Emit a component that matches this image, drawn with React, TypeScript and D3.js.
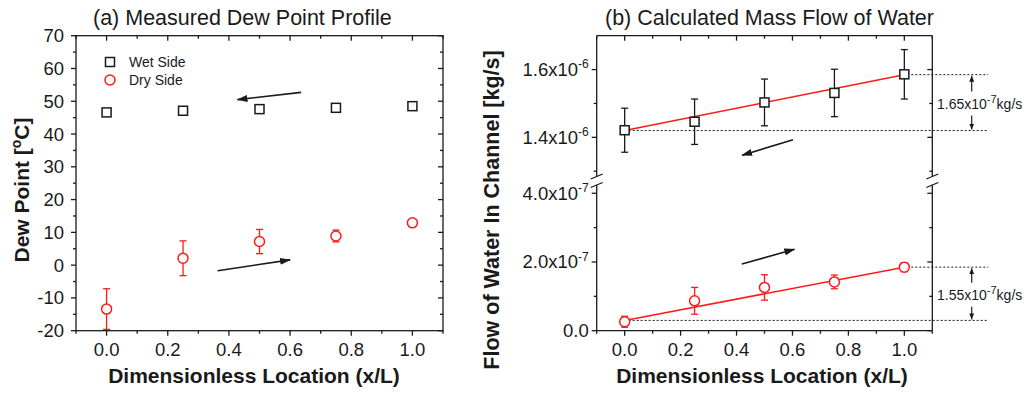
import React, { useEffect, useRef } from 'react';
import * as d3 from 'd3';

// x positions of the measuring points (x/L)
const xLocations = [0, 0.25, 0.5, 0.75, 1.0];

// (a) dew point profile [°C]
const wetDewPoint = [46.6, 47.1, 47.6, 48.0, 48.5];
const wetDewPointErr = [0.6, 0.6, 0.6, 0.6, 0.6];
const dryDewPoint = [-13.4, 2.1, 7.2, 8.9, 12.9];
const dryDewPointErr = [6.2, 5.3, 3.7, 1.8, 0.7];

// (b) mass flow of water [kg/s]
const wetFlow = [1.421e-6, 1.446e-6, 1.503e-6, 1.531e-6, 1.586e-6];
const wetFlowErr = [0.065e-6, 0.067e-6, 0.069e-6, 0.07e-6, 0.073e-6];
const dryFlow = [2.6e-8, 8.7e-8, 1.26e-7, 1.42e-7, 1.85e-7];
const dryFlowErr = [1.6e-8, 3.9e-8, 3.7e-8, 2.0e-8, 1.3e-8];

// linear fits, value at x = 0 and x = 1
const wetFlowFit = [1.42e-6, 1.585e-6];
const dryFlowFit = [3.0e-8, 1.85e-7];
const fitLabels = [['1.65x10', '-7', 'kg/s'], ['1.55x10', '-7', 'kg/s']];

// ticks
const xTicks = [0, 0.2, 0.4, 0.6, 0.8, 1.0];
const xMinorTicks = [-0.1, 0.1, 0.3, 0.5, 0.7, 0.9, 1.1];
const dewTicks = [-20, -10, 0, 10, 20, 30, 40, 50, 60, 70];
const dewMinorTicks = [-15, -5, 5, 15, 25, 35, 45, 55, 65];
const upperFlowTicks = [1.4e-6, 1.6e-6];
const upperFlowMinorTicks = [1.3e-6, 1.5e-6];
const upperFlowTickLabels = [['1.4x10', '-6'], ['1.6x10', '-6']];
const lowerFlowTicks = [0, 2e-7, 4e-7];
const lowerFlowMinorTicks = [1e-7, 3e-7];
const lowerFlowTickLabels = [['0.0', ''], ['2.0x10', '-7'], ['4.0x10', '-7']];

// direction arrows, in data units [x1, y1, x2, y2] (head at x2, y2)
const dewArrows = [[0.636, 52.7, 0.428, 50.5], [0.363, -1.7, 0.6, 1.6]];
const upperFlowArrow = [0.602, 1.393e-6, 0.42, 1.347e-6];
const lowerFlowArrow = [0.419, 1.94e-7, 0.607, 2.37e-7];

const seriesNames = ['Wet Side', 'Dry Side'];

const FONT = '"Liberation Sans", Arial, Helvetica, sans-serif';
const INK = '#1a1a1a';
const RED = '#ff1a1a';

const App = () => {
  const svgRef = useRef(null);

  useEffect(() => {
    renderChart();
  }, []);

  const renderChart = () => {
    const svg = d3.select(svgRef.current);
    svg.selectAll('*').remove();
    svg.style('font-family', FONT);

    const defs = svg.append('defs');
    defs.append('marker')
      .attr('id', 'arrowBig')
      .attr('viewBox', '0 0 11 7')
      .attr('refX', 10)
      .attr('refY', 3.5)
      .attr('markerWidth', 11)
      .attr('markerHeight', 7)
      .attr('markerUnits', 'userSpaceOnUse')
      .attr('orient', 'auto')
      .append('path')
      .attr('d', 'M0,0 L11,3.5 L0,7 Z')
      .attr('fill', INK);
    defs.append('marker')
      .attr('id', 'arrowSmall')
      .attr('viewBox', '0 0 6 5')
      .attr('refX', 6)
      .attr('refY', 2.5)
      .attr('markerWidth', 6)
      .attr('markerHeight', 5)
      .attr('markerUnits', 'userSpaceOnUse')
      .attr('orient', 'auto')
      .append('path')
      .attr('d', 'M0,0 L6,2.5 L0,5 Z')
      .attr('fill', INK);

    const line = (g, x1, y1, x2, y2, color = INK, w = 1.3) =>
      g.append('line')
        .attr('x1', x1).attr('y1', y1).attr('x2', x2).attr('y2', y2)
        .attr('stroke', color).attr('stroke-width', w);

    const supText = (g, x, y, parts, anchor, size, supSize) => {
      const t = g.append('text')
        .attr('x', x).attr('y', y)
        .attr('text-anchor', anchor)
        .style('font-size', `${size}px`)
        .attr('fill', INK);
      t.append('tspan').text(parts[0]);
      if (parts[1]) {
        t.append('tspan').attr('dy', -size * 0.42).style('font-size', `${supSize}px`).text(parts[1]);
      }
      if (parts[2]) {
        t.append('tspan').attr('dy', size * 0.42).text(parts[2]);
      }
      return t;
    };

    const xTickMarks = (g, xs, top, bottom) => {
      xTicks.forEach(v => {
        line(g, xs(v), bottom, xs(v), bottom + 5);
        line(g, xs(v), top, xs(v), top + 5);
        g.append('text')
          .attr('x', xs(v)).attr('y', bottom + 25)
          .attr('text-anchor', 'middle')
          .style('font-size', '18.5px')
          .attr('fill', INK)
          .text(d3.format('.1f')(v));
      });
      xMinorTicks.forEach(v => {
        line(g, xs(v), bottom, xs(v), bottom + 3);
        line(g, xs(v), top, xs(v), top + 3);
      });
    };

    const errorBars = (g, xs, ys, vals, errs, color) => {
      vals.forEach((v, i) => {
        const cx = xs(xLocations[i]);
        line(g, cx, ys(v - errs[i]), cx, ys(v + errs[i]), color, 1.3);
        line(g, cx - 3.5, ys(v - errs[i]), cx + 3.5, ys(v - errs[i]), color, 1.3);
        line(g, cx - 3.5, ys(v + errs[i]), cx + 3.5, ys(v + errs[i]), color, 1.3);
      });
    };

    const squares = (g, xs, ys, vals) => {
      vals.forEach((v, i) => {
        g.append('rect')
          .attr('x', xs(xLocations[i]) - 4.5).attr('y', ys(v) - 4.5)
          .attr('width', 9).attr('height', 9)
          .attr('fill', '#fff').attr('stroke', INK).attr('stroke-width', 1.5);
      });
    };

    const circles = (g, xs, ys, vals) => {
      vals.forEach((v, i) => {
        g.append('circle')
          .attr('cx', xs(xLocations[i])).attr('cy', ys(v)).attr('r', 5)
          .attr('fill', '#fff').attr('stroke', RED).attr('stroke-width', 1.5);
      });
    };

    const arrow = (g, xs, ys, a) => {
      g.append('line')
        .attr('x1', xs(a[0])).attr('y1', ys(a[1]))
        .attr('x2', xs(a[2])).attr('y2', ys(a[3]))
        .attr('stroke', INK).attr('stroke-width', 1.6)
        .attr('marker-end', 'url(#arrowBig)');
    };

    // ---------------- (a) Measured Dew Point Profile ----------------
    const A = { left: 76, right: 443, top: 35.7, bottom: 330.7 };
    const xA = d3.scaleLinear().domain([-0.1, 1.1]).range([A.left, A.right]);
    const yA = d3.scaleLinear().domain([-20, 70]).range([A.bottom, A.top]);
    const ga = svg.append('g');

    ga.append('rect')
      .attr('x', A.left).attr('y', A.top)
      .attr('width', A.right - A.left).attr('height', A.bottom - A.top)
      .attr('fill', 'none').attr('stroke', INK).attr('stroke-width', 1.3);

    xTickMarks(ga, xA, A.top, A.bottom);
    dewTicks.forEach(v => {
      line(ga, A.left - 5, yA(v), A.left, yA(v));
      line(ga, A.right - 5, yA(v), A.right, yA(v));
      ga.append('text')
        .attr('x', A.left - 12).attr('y', yA(v) + 6.5)
        .attr('text-anchor', 'end')
        .style('font-size', '18.5px')
        .attr('fill', INK)
        .text(v);
    });
    dewMinorTicks.forEach(v => {
      line(ga, A.left - 3, yA(v), A.left, yA(v));
      line(ga, A.right - 3, yA(v), A.right, yA(v));
    });

    errorBars(ga, xA, yA, wetDewPoint, wetDewPointErr, INK);
    errorBars(ga, xA, yA, dryDewPoint, dryDewPointErr, RED);
    squares(ga, xA, yA, wetDewPoint);
    circles(ga, xA, yA, dryDewPoint);
    dewArrows.forEach(a => arrow(ga, xA, yA, a));

    // legend
    ga.append('rect')
      .attr('x', 105.5).attr('y', 57.5).attr('width', 9).attr('height', 9)
      .attr('fill', '#fff').attr('stroke', INK).attr('stroke-width', 1.5);
    ga.append('circle')
      .attr('cx', 110).attr('cy', 80).attr('r', 5)
      .attr('fill', '#fff').attr('stroke', RED).attr('stroke-width', 1.5);
    seriesNames.forEach((s, i) => {
      ga.append('text')
        .attr('x', 129).attr('y', 67 + i * 18)
        .style('font-size', '14px')
        .attr('fill', INK)
        .text(s);
    });

    ga.append('text')
      .attr('x', 93).attr('y', 25)
      .style('font-size', '21.5px')
      .attr('fill', INK)
      .text('(a) Measured Dew Point Profile');
    ga.append('text')
      .attr('x', 254).attr('y', 383)
      .attr('text-anchor', 'middle')
      .style('font-size', '21px').style('font-weight', 'bold')
      .attr('fill', INK)
      .text('Dimensionless Location (x/L)');
    const yTitleA = ga.append('text')
      .attr('transform', 'translate(29,190) rotate(-90)')
      .attr('text-anchor', 'middle')
      .style('font-size', '21px').style('font-weight', 'bold')
      .attr('fill', INK);
    yTitleA.append('tspan').text('Dew Point [');
    yTitleA.append('tspan').attr('dy', -8).style('font-size', '14px').text('o');
    yTitleA.append('tspan').attr('dy', 8).text('C]');

    // ---------------- (b) Calculated Mass Flow of Water ----------------
    const B = { left: 596.7, right: 932.3, top: 35.7, bottom: 330.7, breakTop: 179, breakBottom: 184 };
    const xB = d3.scaleLinear().domain([-0.1, 1.1]).range([B.left, B.right]);
    const yUp = d3.scaleLinear().domain([1.277e-6, 1.7e-6]).range([B.breakTop, B.top]);
    const yLow = d3.scaleLinear().domain([0, 4.27e-7]).range([B.bottom, B.breakBottom]);
    const gb = svg.append('g');

    // frame with broken vertical axes
    const gapTop = 176.5;
    const gapBottom = 185;
    line(gb, B.left, B.top, B.right, B.top);
    line(gb, B.left, B.bottom, B.right, B.bottom);
    [B.left, B.right].forEach(ax => {
      line(gb, ax, B.top, ax, gapTop);
      line(gb, ax, gapBottom, ax, B.bottom);
      line(gb, ax - 6, gapTop + 2.5, ax + 6, gapTop - 2.5, INK, 1.3);
      line(gb, ax - 6, gapBottom + 2.5, ax + 6, gapBottom - 2.5, INK, 1.3);
    });

    xTickMarks(gb, xB, B.top, B.bottom);
    const flowTicks = (ys, ticks, minor, labels) => {
      ticks.forEach((v, i) => {
        line(gb, B.left - 5, ys(v), B.left, ys(v));
        line(gb, B.right - 5, ys(v), B.right, ys(v));
        supText(gb, B.left - 8, ys(v) + 6.5, labels[i], 'end', 18.5, 12);
      });
      minor.forEach(v => {
        line(gb, B.left - 3, ys(v), B.left, ys(v));
        line(gb, B.right - 3, ys(v), B.right, ys(v));
      });
    };
    flowTicks(yUp, upperFlowTicks, upperFlowMinorTicks, upperFlowTickLabels);
    flowTicks(yLow, lowerFlowTicks, lowerFlowMinorTicks, lowerFlowTickLabels);

    // fit reference lines and difference annotations
    const dotEnd = B.right + 56;
    const fitBlock = (ys, fit, label) => {
      gb.append('line')
        .attr('x1', xB(0)).attr('y1', ys(fit[0])).attr('x2', dotEnd).attr('y2', ys(fit[0]))
        .attr('stroke', INK).attr('stroke-width', 1).attr('stroke-dasharray', '2,2');
      gb.append('line')
        .attr('x1', xB(1) + 7).attr('y1', ys(fit[1])).attr('x2', dotEnd).attr('y2', ys(fit[1]))
        .attr('stroke', INK).attr('stroke-width', 1).attr('stroke-dasharray', '2,2');
      const top = ys(fit[1]);
      const bottom = ys(fit[0]);
      const mid = (top + bottom) / 2;
      const ax = 971.7;
      gb.append('line')
        .attr('x1', ax).attr('y1', mid - 11).attr('x2', ax).attr('y2', top + 1)
        .attr('stroke', INK).attr('stroke-width', 1.2).attr('marker-end', 'url(#arrowSmall)');
      gb.append('line')
        .attr('x1', ax).attr('y1', mid + 13).attr('x2', ax).attr('y2', bottom - 1)
        .attr('stroke', INK).attr('stroke-width', 1.2).attr('marker-end', 'url(#arrowSmall)');
      supText(gb, 937, mid + 6, label, 'start', 14, 11);
      gb.append('line')
        .attr('x1', xB(0)).attr('y1', ys(fit[0]))
        .attr('x2', xB(1)).attr('y2', ys(fit[1]))
        .attr('stroke', RED).attr('stroke-width', 1.5);
    };
    fitBlock(yUp, wetFlowFit, fitLabels[0]);
    fitBlock(yLow, dryFlowFit, fitLabels[1]);

    errorBars(gb, xB, yUp, wetFlow, wetFlowErr, INK);
    errorBars(gb, xB, yLow, dryFlow, dryFlowErr, RED);
    squares(gb, xB, yUp, wetFlow);
    circles(gb, xB, yLow, dryFlow);
    arrow(gb, xB, yUp, upperFlowArrow);
    arrow(gb, xB, yLow, lowerFlowArrow);

    gb.append('text')
      .attr('x', 605).attr('y', 25)
      .style('font-size', '21.5px')
      .attr('fill', INK)
      .text('(b) Calculated Mass Flow of Water');
    gb.append('text')
      .attr('x', 762).attr('y', 383)
      .attr('text-anchor', 'middle')
      .style('font-size', '21px').style('font-weight', 'bold')
      .attr('fill', INK)
      .text('Dimensionless Location (x/L)');
    gb.append('text')
      .attr('transform', 'translate(499,210) rotate(-90)')
      .attr('text-anchor', 'middle')
      .style('font-size', '21.5px').style('font-weight', 'bold')
      .attr('fill', INK)
      .text('Flow of Water In Channel [kg/s]');
  };

  return (
    <div>
      <style>{'body{margin:0;background:#fff}'}</style>
      <svg ref={svgRef} width={1028} height={397} style={{ display: 'block', background: '#fff' }}></svg>
    </div>
  );
};

export default App;
